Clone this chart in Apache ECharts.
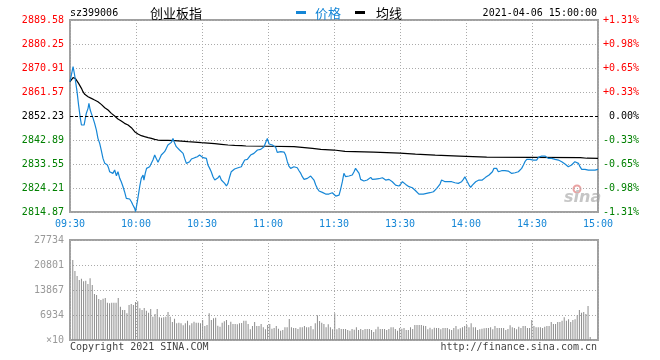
<!DOCTYPE html>
<html><head><meta charset="utf-8">
<script src="https://cdn.jsdelivr.net/npm/echarts@6/dist/echarts.min.js"></script>
<style>html,body{margin:0;padding:0;background:#fff}#c{width:660px;height:360px}</style>
</head><body><div id="c"></div>
<script>
const stockCode = 'sz399006';
const stockName = '创业板指';
const stamp = '2021-04-06 15:00:00';
const preClose = 2852.23;
const priceMin = 2814.875, priceMax = 2889.585;
const volMax = 27734;
const timeLabels = ['09:30','10:00','10:30','11:00','11:30','13:30','14:00','14:30','15:00'];
const priceTicks = ['2814.87','2824.21','2833.55','2842.89','2852.23','2861.57','2870.91','2880.25','2889.58'];
const pctTicks = ['-1.31%','-0.98%','-0.65%','-0.33%','0.00%','+0.33%','+0.65%','+0.98%','+1.31%'];
const volTicks = ['×10','6934','13867','20801','27734'];
const legendNames = ['价格','均线'];

// [minute index from 09:30, price]
const pricePoints = [
[0,2865.58],[1.4,2871.42],[2.1,2868.18],[3.2,2861.69],[3.9,2856.50],[4.7,2851.31],[5.2,2848.72],[6.4,2848.72],[6.7,2850.01],[7.4,2853.26],[8.2,2855.20],[8.6,2857.15],[9.2,2854.55],[9.7,2853.26],[10.5,2851.31],[11.2,2849.37],[12.0,2846.77],[12.7,2843.53],[13.5,2841.58],[14.2,2838.99],[15.0,2835.74],[15.8,2833.80],[17.0,2833.15],[17.6,2831.85],[18.0,2830.56],[18.8,2831.21],[19.5,2829.91],[20.3,2831.21],[21.1,2829.00],[21.8,2830.56],[22.6,2827.96],[23.3,2826.67],[24.1,2824.72],[24.8,2822.77],[25.6,2820.18],[26.4,2820.44],[27.1,2819.92],[27.9,2818.88],[28.6,2817.58],[29.4,2816.29],[29.8,2814.99],[30.3,2815.64],[30.6,2818.88],[31.2,2822.12],[31.8,2825.37],[32.4,2827.96],[33.2,2829.26],[33.6,2827.31],[34.2,2829.91],[34.8,2831.85],[35.5,2832.50],[36.2,2832.50],[37.0,2833.15],[37.7,2835.10],[38.5,2837.04],[39.2,2835.74],[40.0,2834.19],[40.8,2835.74],[41.5,2837.04],[42.3,2837.04],[43.0,2838.34],[43.8,2839.64],[44.5,2840.94],[45.3,2840.29],[46.1,2841.97],[46.8,2843.53],[47.6,2841.58],[48.3,2840.29],[49.1,2840.94],[49.8,2838.99],[50.6,2838.34],[51.4,2837.69],[52.1,2835.74],[52.9,2833.80],[53.6,2833.41],[54.4,2834.45],[55.2,2835.49],[55.9,2835.49],[56.7,2836.01],[57.9,2836.39],[58.9,2837.04],[59.7,2837.30],[60.5,2836.01],[61.2,2836.39],[62.0,2835.74],[62.7,2833.15],[63.5,2831.85],[64.2,2830.56],[65.0,2828.61],[65.8,2827.31],[66.5,2827.96],[67.3,2828.22],[68.0,2829.00],[68.8,2827.31],[69.5,2826.67],[70.3,2826.02],[71.1,2824.98],[71.8,2826.02],[72.6,2828.61],[73.3,2830.56],[74.1,2831.21],[74.8,2831.59],[75.6,2831.85],[76.4,2832.11],[77.1,2831.59],[77.9,2832.50],[78.6,2833.80],[79.4,2835.10],
[80.6,2835.35],[81.4,2835.09],[82.1,2837.04],[82.9,2837.69],[83.6,2837.69],[84.4,2838.34],[85.2,2838.99],[85.9,2839.64],[86.7,2839.25],[87.4,2840.02],[88.2,2840.28],[88.9,2841.84],[89.7,2843.53],[90.5,2841.32],[91.2,2841.32],[92.0,2840.93],[92.7,2841.32],[93.5,2840.02],[94.2,2838.08],[95.0,2838.08],[95.8,2838.34],[96.5,2838.34],[97.3,2838.21],[98.0,2837.04],[98.8,2834.45],[99.5,2832.76],[100.3,2831.85],[101.1,2831.85],[101.8,2832.50],[102.6,2832.50],[103.3,2832.11],[104.1,2830.94],[104.9,2829.90],[105.6,2828.61],[106.4,2827.57],[107.1,2827.70],[107.9,2827.96],[108.6,2828.35],[109.4,2828.87],[110.2,2828.35],[110.9,2827.31],[111.7,2825.36],[112.4,2824.07],[113.2,2823.03],[113.9,2822.51],[114.7,2822.51],[115.5,2822.12],[116.2,2821.86],[117.0,2821.86],[117.7,2821.86],[118.5,2822.38],[119.2,2822.38],[120.0,2821.86],[120.8,2821.08],[121.5,2821.08],[122.3,2821.47],[123.0,2823.68],[123.8,2826.66],[124.5,2829.90],[125.3,2828.61],[126.1,2828.87],[126.8,2828.87],[127.6,2829.64],[128.3,2829.26],[129.1,2830.55],[129.8,2831.85],[130.6,2831.20],[131.4,2829.90],[132.1,2827.57],[132.9,2827.05],[133.6,2826.92],[134.4,2826.92],[135.1,2827.31],[135.9,2827.96],[136.7,2828.35],[137.4,2827.57],[138.2,2827.96],[138.9,2827.70],[139.7,2827.70],[140.4,2827.83],[141.2,2827.96],[142.0,2828.22],[142.7,2827.57],[143.5,2827.31],[144.2,2827.57],[145.0,2827.57],[145.8,2827.31],[146.5,2826.66],[147.3,2826.40],[148.0,2825.36],[148.8,2824.72],[149.5,2824.98],[150.3,2825.76],[151.1,2826.66],[151.8,2826.27],[152.6,2825.62],[153.3,2824.98],[154.1,2824.72],[154.9,2824.46],[155.6,2824.33],[156.4,2823.81],[157.1,2823.16],[157.9,2822.77],[158.6,2821.86],[159.4,2821.47],
[160.6,2821.86],[161.4,2821.47],[162.1,2822.12],[162.9,2821.86],[163.6,2822.38],[164.4,2822.38],[165.2,2822.77],[165.9,2823.42],[166.7,2824.07],[167.4,2824.72],[168.2,2825.76],[168.9,2827.31],[169.7,2827.31],[170.5,2826.66],[171.2,2826.27],[172.0,2826.66],[172.7,2826.66],[173.5,2826.66],[174.2,2826.66],[175.0,2826.27],[175.8,2826.27],[176.5,2826.01],[177.3,2826.27],[178.0,2826.66],[178.8,2827.57],[179.5,2828.61],[180.0,2829.26],[180.6,2826.66],[181.4,2825.36],[182.1,2824.46],[182.9,2825.36],[183.6,2826.01],[184.4,2826.66],[185.2,2826.92],[185.9,2827.31],[186.7,2826.92],[187.4,2827.31],[188.2,2827.96],[188.9,2828.35],[189.7,2828.61],[190.5,2829.26],[191.2,2829.90],[192.0,2830.55],[192.7,2831.85],[193.5,2832.50],[193.9,2831.85],[194.7,2830.55],[195.5,2830.94],[196.2,2830.94],[197.0,2830.94],[197.7,2830.94],[198.5,2830.94],[199.2,2830.81],[200.0,2830.55],[200.8,2829.90],[201.5,2829.26],[202.3,2830.16],[203.0,2830.29],[203.8,2830.55],[204.5,2831.20],[205.3,2831.85],[206.1,2833.15],[206.8,2834.45],[207.6,2835.35],[208.3,2835.74],[209.1,2835.35],[209.8,2835.35],[210.6,2835.09],[211.4,2835.09],[212.1,2835.09],[212.9,2836.13],[213.6,2836.65],[214.4,2836.65],[215.2,2836.65],[215.9,2836.65],[216.7,2836.65],[217.4,2835.74],[218.2,2835.35],[218.9,2835.74],[219.7,2835.74],[220.5,2835.35],[221.2,2835.09],[222.0,2835.09],[222.7,2834.83],[223.5,2834.45],[224.2,2834.06],[225.0,2833.54],[225.8,2833.02],[226.5,2832.50],[227.3,2832.76],[228.0,2833.15],[228.8,2833.80],[229.5,2834.45],[230.3,2835.09],[231.1,2833.80],[231.8,2832.50],[232.6,2831.46],[233.3,2831.46],[234.1,2831.46],[234.8,2831.20],[235.6,2831.20],[236.4,2831.20],[237.1,2831.20],[237.9,2831.20],[238.6,2831.20],[239.4,2831.46],[240,2831.46]
];

// [minute index, average price]
const avgPoints = [
[0,2865.58],[1.4,2867.14],[2.4,2866.88],[3.2,2866.23],[3.9,2864.93],[5.2,2862.99],[5.9,2861.69],[6.7,2860.65],[8.2,2859.74],[9.7,2859.09],[11.2,2858.44],[12.7,2857.80],[14.2,2856.76],[15.8,2855.46],[17.3,2854.55],[18.8,2853.26],[20.3,2852.22],[21.8,2851.05],[23.3,2850.27],[24.8,2849.37],[26.4,2848.72],[27.9,2847.68],[29.4,2846.13],[30.9,2845.22],[32.4,2844.57],[33.9,2844.18],[35.5,2843.79],[37.0,2843.53],[38.5,2843.14],[40.0,2842.88],[41.5,2842.75],[44.5,2842.75],[47.6,2842.62],[50.6,2842.49],[53.6,2842.23],[56.7,2842.10],[59.7,2841.84],[62.7,2841.71],[65.8,2841.45],[68.8,2841.20],[71.8,2840.94],[74.8,2840.81],[77.9,2840.68],[80.0,2840.55],[90.0,2840.45],[101.8,2840.28],[110.2,2839.64],[114.0,2839.25],[120.0,2838.99],[125.0,2838.47],[138.0,2838.21],[150.0,2837.82],[157.0,2837.43],[166.0,2837.04],[177.0,2836.65],[189.4,2836.26],[210.0,2836.13],[232.0,2836.00],[235.0,2835.80],[240,2835.74]
];

// one bar per minute, minutes 1..240 (units ×10)
const volumes = [
22188,19137,17750,16641,17011,16271,16456,15532,17103,15254,
12758,12481,11371,11094,11464,11649,10354,10170,10354,10354,
10354,11649,9245,8321,8321,7396,9707,9985,9707,10539,
10724,8783,8321,8875,8136,7581,8598,6472,7211,8598,
6287,6194,6287,6472,7766,6472,4992,5917,4623,4807,
4623,4068,4623,5362,4068,4623,5085,4807,4807,4623,
5547,3883,4160,7396,5547,6009,6194,3975,3698,4807,
5177,5547,4160,5085,4438,4438,4345,4623,4715,5362,
5362,4438,2958,3883,4992,3883,3883,4438,3513,2958,
4160,4438,3143,3328,3883,3143,2589,2774,3513,3513,
5824,3513,3328,3328,3051,3513,3513,3883,3513,3513,
3883,2958,4623,6841,5270,4807,4438,3513,4345,3513,
2958,7396,2958,3328,3051,3051,3051,2774,2589,3051,
2866,3513,2774,3051,2774,3051,3051,3051,2774,2219,
2958,3698,3051,3051,3051,2774,3051,3513,3513,3051,
2589,3328,3143,3328,2774,2774,3513,3051,4160,4160,
4160,
4160,3975,3883,2958,3421,2958,3421,3328,3328,2958,
3328,3328,3328,2958,2774,3328,3883,2958,3236,3513,
3883,4160,3513,4623,3513,3513,2774,2958,3143,3236,
3328,3328,3513,2958,3883,3328,3328,3328,3328,2774,
3051,4068,3513,3328,2958,3698,3328,3883,3883,3328,
3328,5547,3883,3513,3513,3513,3328,3698,3883,3883,
4992,4438,4438,4992,4992,5362,6287,5362,5732,4992,
5547,5732,6841,8321,7581,7766,7211,9430,832
];

const mono = '"DejaVu Sans Mono", monospace';
const cjk = '"Noto Sans CJK SC", sans-serif';
const blue = '#1586d6';
const gridGray = '#aaaaaa';
const priceStep = (priceMax - priceMin) / 8;
const tickIdx = v => Math.round((parseFloat(v) - priceMin) / priceStep);
const tickColor = v => { const i = tickIdx(v); return i > 4 ? '#ff0000' : (i < 4 ? '#008000' : '#000000'); };
const dotted = { lineStyle: { color: gridGray, type: [1, 2], width: 1 } };

const chart = echarts.init(document.getElementById('c'), null, { renderer: 'canvas' });
chart.setOption({
  animation: false,
  backgroundColor: '#fff',
  grid: [
    { left: 70, top: 20, width: 528, height: 192, show: true, borderColor: '#a0a0a0', borderWidth: 2 },
    { left: 70, top: 240, width: 528, height: 100, show: true, borderColor: '#a0a0a0', borderWidth: 2 }
  ],
  xAxis: [
    { gridIndex: 0, type: 'value', min: 0, max: 240, interval: 30,
      axisLine: { show: false }, axisTick: { show: false }, splitLine: dotted,
      axisLabel: { formatter: v => timeLabels[Math.round(v / 30)], color: blue, fontFamily: mono, fontSize: 10, margin: 7, showMinLabel: true, showMaxLabel: true } },
    { gridIndex: 1, type: 'value', min: 0, max: 240, interval: 30,
      axisLine: { show: false }, axisTick: { show: false }, axisLabel: { show: false }, splitLine: dotted },
    { gridIndex: 1, type: 'value', min: -0.28, max: 243.6, show: false, splitLine: { show: false } }
  ],
  yAxis: [
    { gridIndex: 0, type: 'value', min: priceMin, max: priceMax, interval: priceStep,
      axisLine: { show: false }, axisTick: { show: false }, splitLine: dotted,
      axisLabel: { formatter: v => priceTicks[tickIdx(v)], color: tickColor, fontFamily: mono, fontSize: 10, margin: 6 } },
    { gridIndex: 0, type: 'value', position: 'right', min: priceMin, max: priceMax, interval: priceStep,
      axisLine: { show: false }, axisTick: { show: false }, splitLine: { show: false },
      axisLabel: { formatter: v => pctTicks[tickIdx(v)], color: tickColor, fontFamily: mono, fontSize: 10, margin: 41, align: 'right' } },
    { gridIndex: 1, type: 'value', min: 0, max: volMax, interval: volMax / 4,
      axisLine: { show: false }, axisTick: { show: false }, splitLine: dotted,
      axisLabel: { formatter: v => volTicks[Math.round(v / (volMax / 4))], color: '#999', fontFamily: mono, fontSize: 10, margin: 6 } }
  ],
  graphic: [
    { type: 'text', x: 70, y: 13, style: { text: stockCode, fill: '#000', fontFamily: mono, fontSize: 10, verticalAlign: 'middle' } },
    { type: 'text', x: 150, y: 13, style: { text: stockName, fill: '#000', fontFamily: cjk, fontSize: 13, verticalAlign: 'middle' } },
    { type: 'rect', shape: { x: 296, y: 11, width: 10, height: 3 }, style: { fill: blue } },
    { type: 'text', x: 315, y: 13, style: { text: legendNames[0], fill: blue, fontFamily: cjk, fontSize: 13, verticalAlign: 'middle' } },
    { type: 'rect', shape: { x: 355, y: 11, width: 10, height: 3 }, style: { fill: '#000' } },
    { type: 'text', x: 376, y: 13, style: { text: legendNames[1], fill: '#000', fontFamily: cjk, fontSize: 13, verticalAlign: 'middle' } },
    { type: 'text', x: 597, y: 13, style: { text: stamp, fill: '#000', fontFamily: mono, fontSize: 10, align: 'right', verticalAlign: 'middle' } },
    { type: 'text', x: 70, y: 347, style: { text: 'Copyright 2021 SINA.COM', fill: '#444', fontFamily: mono, fontSize: 10, verticalAlign: 'middle' } },
    { type: 'text', x: 597, y: 347, style: { text: 'http://finance.sina.com.cn', fill: '#444', fontFamily: mono, fontSize: 10, align: 'right', verticalAlign: 'middle' } },
    { type: 'circle', z: -1, shape: { cx: 577, cy: 189, r: 3.5 }, style: { fill: 'none', stroke: '#eaa2a2', lineWidth: 2 } },
    { type: 'text', z: -1, x: 564, y: 198, style: { text: 'sina', fill: '#c6c6c6', fontFamily: '"DejaVu Sans", sans-serif', fontSize: 16, fontWeight: 'bold', fontStyle: 'italic', verticalAlign: 'middle' } }
  ],
  series: [
    { name: legendNames[1], type: 'line', xAxisIndex: 0, yAxisIndex: 0, data: avgPoints, showSymbol: false, symbol: 'none',
      lineStyle: { color: '#000', width: 1.2 }, z: 3 },
    { name: legendNames[0], type: 'line', xAxisIndex: 0, yAxisIndex: 0, data: pricePoints, showSymbol: false, symbol: 'none',
      lineStyle: { color: blue, width: 1.2 }, z: 4,
      markLine: { symbol: 'none', silent: true, label: { show: false }, lineStyle: { color: '#000', type: [3, 2], width: 1 }, data: [{ yAxis: preClose }] } },
    { name: 'vol', type: 'bar', xAxisIndex: 2, yAxisIndex: 2, data: volumes.map((v, i) => [i + 1, v]), barWidth: 1,
      itemStyle: { color: '#8c8c8c' } }
  ]
});
</script></body></html>
